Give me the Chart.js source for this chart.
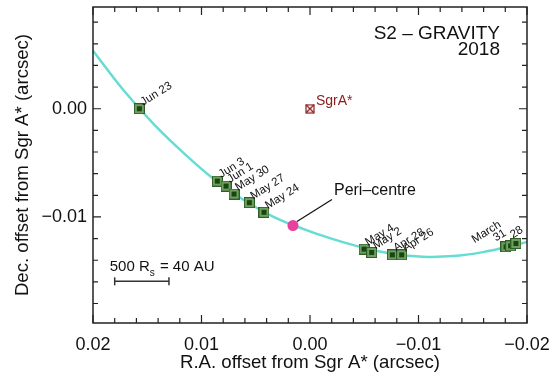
<!DOCTYPE html>
<html><head><meta charset="utf-8">
<script src="https://cdn.jsdelivr.net/npm/chart.js@4/dist/chart.umd.min.js"></script>
<style>html,body{margin:0;padding:0;background:#fff}#wrap{width:550px;height:380px}</style>
</head><body><div id="wrap"><canvas id="c" width="550" height="380"></canvas></div>
<script>
// ---- data (arcsec) ----
const orbitRA  = [0.02000, 0.01724, 0.01447, 0.01171, 0.00894, 0.00618, 0.00341, 0.00065, -0.00212, -0.00488, -0.00765, -0.01041, -0.01318, -0.01594, -0.01871, -0.02000];
const orbitDec = [0.00536, 0.00177, -0.00135, -0.00403, -0.00644, -0.00839, -0.00996, -0.01110, -0.01205, -0.01283, -0.01341, -0.01368, -0.01362, -0.01325, -0.01265, -0.01230];
const obsDates = ["Jun 23", "Jun 3", "Jun 1", "May 30", "May 27", "May 24", "May 4", "May 2", "Apr 28", "Apr 26", "March\n31", "", "28"];
const obsRA    = [0.01573, 0.00854, 0.00774, 0.00700, 0.00559, 0.00424, -0.00498, -0.00568, -0.00759, -0.00845, -0.01806, -0.01849, -0.01898];
const obsDec   = [0.0000, -0.00669, -0.00715, -0.00788, -0.00868, -0.00957, -0.01297, -0.01328, -0.01350, -0.01350, -0.01276, -0.01267, -0.01245];
const periRA = [0.00157], periDec = [-0.01079], periLabel = "Peri\u2013centre";
const sgrRA = [0.0], sgrDec = [0.0], sgrLabel = "SgrA*";
const scaleBarRA = [0.0180, 0.0130], scaleBarDec = [-0.01595, -0.01595];
const xTickValues = [0.02, 0.01, 0.0, -0.01, -0.02];
const xTickLabels = ["0.02", "0.01", "0.00", "\u22120.01", "\u22120.02"];
const yTickValues = [0.0, -0.01];
const yTickLabels = ["0.00", "\u22120.01"];
const titleLines = ["S2 \u2013 GRAVITY", "2018"];
const xTitle = "R.A. offset from Sgr A* (arcsec)";
const yTitle = "Dec. offset from Sgr A* (arcsec)";

const FONT = "'Liberation Sans', Arial, Helvetica, sans-serif";
const zip = (a, b) => a.map((v, i) => ({x: v, y: b[i]}));

function obsMarker() {
  const c = document.createElement('canvas'); c.width = 11; c.height = 11;
  const g = c.getContext('2d');
  g.fillStyle = '#2f5f24'; g.fillRect(0, 0, 11, 11);
  g.fillStyle = '#6f9f60'; g.fillRect(1, 1, 9, 9);
  g.fillStyle = '#174610'; g.fillRect(3, 3, 5, 5);
  return c;
}
function sgrMarker() {
  const c = document.createElement('canvas'); c.width = 10; c.height = 10;
  const g = c.getContext('2d');
  g.strokeStyle = '#8b1c1c'; g.lineWidth = 1.2;
  g.strokeRect(1, 1, 8, 8);
  g.beginPath(); g.moveTo(1, 1); g.lineTo(9, 9); g.moveTo(9, 1); g.lineTo(1, 9); g.stroke();
  return c;
}

const framePlugin = {
  id: 'frame',
  afterDatasetsDraw(chart) {
    const {ctx, chartArea: a, scales: {x, y}} = chart;
    ctx.save();
    ctx.strokeStyle = '#222'; ctx.lineWidth = 1.5;
    ctx.strokeRect(a.left, a.top, a.right - a.left, a.bottom - a.top);
    ctx.lineWidth = 1.2;
    ctx.beginPath();
    for (let k = -10; k <= 10; k++) {
      const v = k * 0.002, px = x.getPixelForValue(v);
      const L = (k % 5 === 0) ? 8 : 5;
      ctx.moveTo(px, a.bottom); ctx.lineTo(px, a.bottom - L);
      ctx.moveTo(px, a.top); ctx.lineTo(px, a.top + L);
    }
    for (let k = Math.ceil(y.min / 0.002); k <= Math.floor(y.max / 0.002); k++) {
      const v = k * 0.002, py = y.getPixelForValue(v);
      const L = (k % 5 === 0) ? 8 : 5;
      ctx.moveTo(a.left, py); ctx.lineTo(a.left + L, py);
      ctx.moveTo(a.right, py); ctx.lineTo(a.right - L, py);
    }
    ctx.stroke();
    ctx.restore();
  }
};

// label placement nudges (pixels), keyed by label index
const labelNudge = { 12: [-3, -5] };

const textPlugin = {
  id: 'texts',
  afterDatasetsDraw(chart) {
    const {ctx, chartArea: a, scales: {x, y}} = chart;
    ctx.save();
    ctx.fillStyle = '#111';
    ctx.font = '11.5px ' + FONT;
    obsDates.forEach((lab, i) => {
      if (!lab) return;
      const px = x.getPixelForValue(obsRA[i]), py = y.getPixelForValue(obsDec[i]);
      const lines = lab.split('\n');
      ctx.save();
      if (lines.length > 1) {
        ctx.translate(px + 1, py - 12);
        ctx.rotate(-32 * Math.PI / 180);
        ctx.textAlign = 'right';
        lines.slice().reverse().forEach((t, j) => ctx.fillText(t, 0, -j * 10));
      } else {
        const n = labelNudge[i] || [4, -3];
        ctx.translate(px + n[0], py + n[1]);
        ctx.rotate(-32 * Math.PI / 180);
        ctx.textAlign = 'left';
        ctx.fillText(lab, 0, 0);
      }
      ctx.restore();
    });
    // peri-centre
    const ppx = x.getPixelForValue(periRA[0]), ppy = y.getPixelForValue(periDec[0]);
    ctx.strokeStyle = '#111'; ctx.lineWidth = 1.2;
    ctx.beginPath(); ctx.moveTo(ppx + 4, ppy - 4); ctx.lineTo(ppx + 39, ppy - 26); ctx.stroke();
    ctx.font = '16px ' + FONT; ctx.textAlign = 'left'; ctx.textBaseline = 'alphabetic';
    ctx.fillText(periLabel, ppx + 41, ppy - 30);
    // SgrA*
    const spx = x.getPixelForValue(sgrRA[0]), spy = y.getPixelForValue(sgrDec[0]);
    ctx.fillStyle = '#8b1c1c'; ctx.font = '14px ' + FONT;
    ctx.fillText(sgrLabel, spx + 6, spy - 4);
    // scale bar text
    const bx = x.getPixelForValue(scaleBarRA[0]), by = y.getPixelForValue(scaleBarDec[0]);
    ctx.fillStyle = '#111'; ctx.font = '15px ' + FONT;
    let tx = bx - 5, ty = by - 10;
    ctx.fillText('500 R', tx, ty); tx += ctx.measureText('500 R').width;
    ctx.font = '10px ' + FONT; ctx.fillText('s', tx, ty + 5); tx += ctx.measureText('s').width + 1;
    ctx.font = '15px ' + FONT; ctx.fillText(' = 40 AU', tx, ty);
    // title
    ctx.font = '19px ' + FONT; ctx.textAlign = 'right';
    ctx.fillText(titleLines[0], a.right - 27, a.top + 32);
    ctx.fillText(titleLines[1], a.right - 27, a.top + 48);
    ctx.restore();
  }
};

new Chart(document.getElementById('c'), {
  type: 'scatter',
  data: {
    datasets: [
      { label: 'orbit', type: 'line', data: zip(orbitRA, orbitDec), borderColor: '#66ddd4', borderWidth: 2.5,
        pointRadius: 0, tension: 0.4, fill: false, order: 10 },
      { label: 'obs', data: zip(obsRA, obsDec), pointStyle: obsMarker(), pointRadius: 5, order: 2 },
      { label: 'peri', data: zip(periRA, periDec), pointStyle: 'circle', pointRadius: 5.5,
        backgroundColor: '#e8409f', borderColor: '#e8409f', borderWidth: 0, order: 1 },
      { label: 'sgr', data: zip(sgrRA, sgrDec), pointStyle: sgrMarker(), pointRadius: 5, order: 1 },
      { label: 'bar', type: 'line', data: zip(scaleBarRA, scaleBarDec), borderColor: '#333', borderWidth: 1.5,
        pointStyle: 'line', rotation: 90, pointRadius: 4, pointBorderColor: '#333', pointBorderWidth: 1.5, order: 3 }
    ]
  },
  options: {
    responsive: false, animation: false, devicePixelRatio: 1,
    layout: { padding: { top: 7, right: 23, left: 0, bottom: 0 } },
    plugins: { legend: { display: false }, tooltip: { enabled: false } },
    scales: {
      x: {
        type: 'linear', reverse: true, min: -0.02, max: 0.02,
        grid: { display: false, drawTicks: false }, border: { display: false },
        afterBuildTicks: s => { s.ticks = xTickValues.map(v => ({value: v})); },
        afterFit: s => { s.height = 57; s.paddingLeft = 0; s.paddingRight = 0; },
        ticks: { autoSkip: false, maxRotation: 0, padding: 11, color: '#111',
          font: { family: FONT, size: 18 }, callback: (v, i) => xTickLabels[i] },
        title: { display: true, text: xTitle, color: '#111', font: { family: FONT, size: 18.6 },
          padding: { top: 0, bottom: 6 } }
      },
      y: {
        type: 'linear', min: -0.0198, max: 0.0094,
        grid: { display: false, drawTicks: false }, border: { display: false },
        afterBuildTicks: s => { s.ticks = yTickValues.map(v => ({value: v})); },
        afterFit: s => { s.width = 93; s.paddingTop = 0; s.paddingBottom = 0; },
        ticks: { autoSkip: false, padding: 6, color: '#111',
          font: { family: FONT, size: 18 }, callback: (v, i) => yTickLabels[i] },
        title: { display: true, text: yTitle, color: '#111', font: { family: FONT, size: 18.6 },
          padding: { top: 12, bottom: 0 } }
      }
    }
  },
  plugins: [framePlugin, textPlugin]
});
</script>
</body></html>
